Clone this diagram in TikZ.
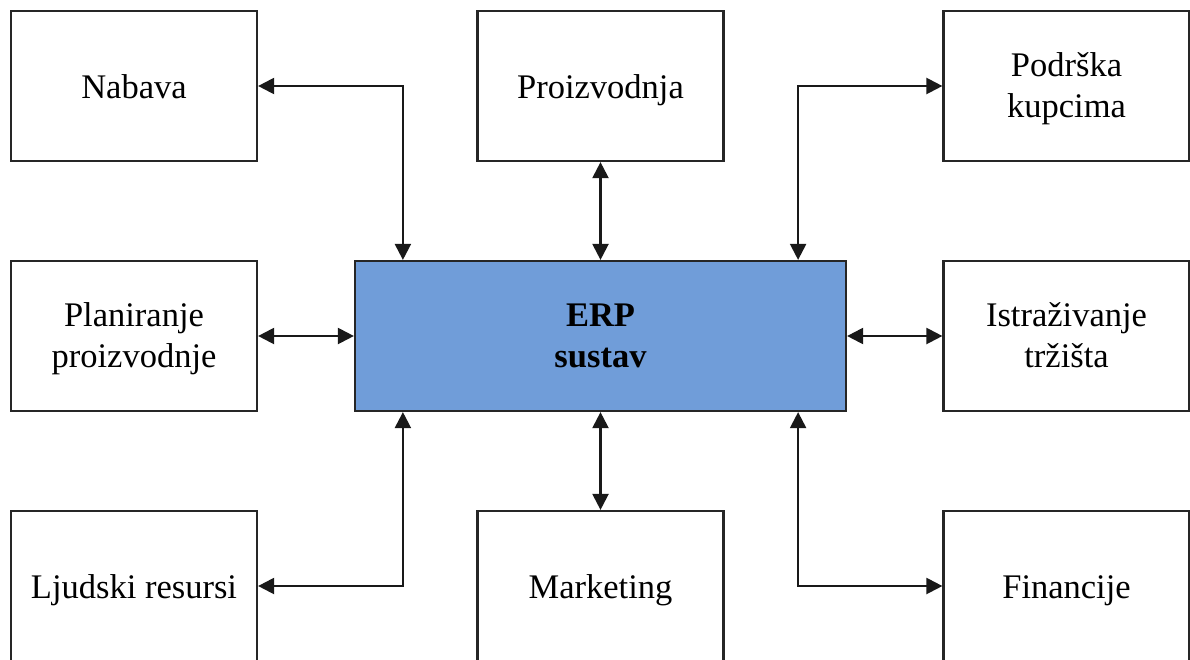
\documentclass[tikz,border=0pt]{standalone}
\usepackage{fontspec}
\setmainfont{Liberation Serif}
\usetikzlibrary{arrows.meta}
\definecolor{erpblue}{RGB}{112,157,217}
\newcommand{\twoln}[2]{\vbox{\baselineskip=41.5pt\halign{\hfil##\hfil\cr #1\cr #2\cr}}}
\begin{document}
\begin{tikzpicture}[x=1pt,y=-1pt,
  box/.style={draw=black!85,line width=2.2pt,rectangle,inner sep=0pt,
    minimum width=246pt,minimum height=150pt},
  erpbox/.style={box,fill=erpblue,minimum width=491pt},
  lbl/.style={inner sep=0pt,anchor=base,font=\fontsize{34.5}{41.5}\selectfont},
  one/.style={lbl,yshift=-12pt},
  two/.style={lbl,yshift=-31.5pt},
  conn/.style={line width=2.2pt,draw=black!90,{Triangle[length=16pt,width=16pt]}-{Triangle[length=16pt,width=16pt]}}]
\useasboundingbox (0,0) rectangle (1190,659);
\begin{scope}
\clip (0,0) rectangle (1190,659);
\node[erpbox] (erp) at (600.5,336) {};
\node[box] (nab) at (134,86) {};
\node[box] (proi) at (600.5,86) {};
\node[box] (pod) at (1066.5,86) {};
\node[box] (plan) at (134,336) {};
\node[box] (ist) at (1066.5,336) {};
\node[box] (lj) at (134,586) {};
\node[box] (mark) at (600.5,586) {};
\node[box] (fin) at (1066.5,586) {};
\end{scope}
\node[two,font=\fontsize{34.5}{41.5}\selectfont\bfseries] (erpT) at (erp.center) {\twoln{ERP}{sustav}};
\node[one] (nabT) at (nab.center) {Nabava};
\node[one] (proiT) at (proi.center) {Proizvodnja};
\node[two] (podT) at (pod.center) {\twoln{Podrška}{kupcima}};
\node[two] (planT) at (plan.center) {\twoln{Planiranje}{proizvodnje}};
\node[two] (istT) at (ist.center) {\twoln{Istraživanje}{tržišta}};
\node[one] (ljT) at (lj.center) {Ljudski resursi};
\node[one] (markT) at (mark.center) {Marketing};
\node[one] (finT) at (fin.center) {Financije};
\draw[conn] (nab.east) -| ([xshift=49pt]erp.north west);
\draw[conn] (proi.south) -- (erp.north);
\draw[conn] ([xshift=-49pt]erp.north east) |- (pod.west);
\draw[conn] (plan.east) -- (erp.west);
\draw[conn] (erp.east) -- (ist.west);
\draw[conn] ([xshift=49pt]erp.south west) |- (lj.east);
\draw[conn] (erp.south) -- (mark.north);
\draw[conn] ([xshift=-49pt]erp.south east) |- (fin.west);
\end{tikzpicture}
\end{document}
